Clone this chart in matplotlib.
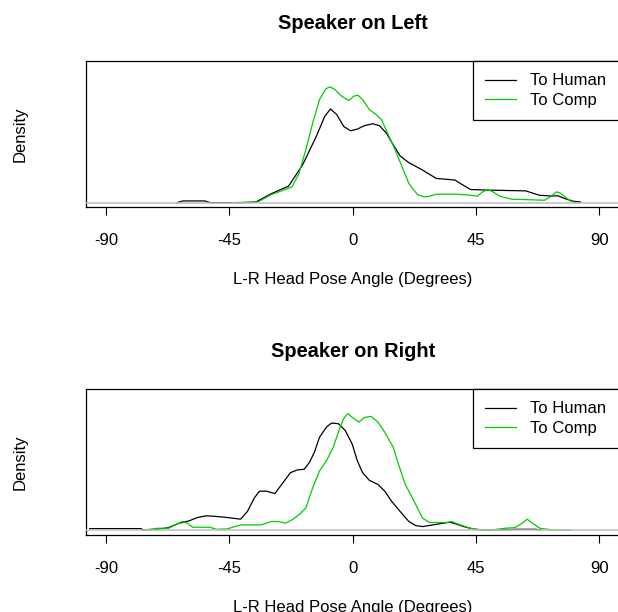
import matplotlib
matplotlib.use("Agg")
import matplotlib.pyplot as plt

plt.rcParams['font.family'] = ['Liberation Sans', 'DejaVu Sans']
plt.rcParams['font.size'] = 12

# Speaker on Left - density estimates
left_human_x = [-64, -62, -54, -52, -40, -35.3, -29.6, -23.4, -18.3, -13.3, -10.2, -8.1, -5.8, -3.3,
                -0.8, 1.7, 4.2, 7.3, 9.8, 12.3, 14.8, 17.3, 20.5, 25.5, 30.5, 34.9, 37.4, 39.3, 43.0,
                50.5, 63.1, 68.1, 71.8, 75.0, 78.1, 80.6, 83.1]
left_human_y = [0, 0.0005, 0.0005, 0, 0, 0.0002, 0.0027, 0.0049, 0.0112, 0.0197, 0.0257, 0.0279,
                0.0262, 0.0227, 0.0214, 0.0219, 0.0229, 0.0235, 0.0229, 0.0207, 0.0172, 0.0139,
                0.0119, 0.0097, 0.0072, 0.0069, 0.0067, 0.0057, 0.0039, 0.0037, 0.0035, 0.0022,
                0.0020, 0.0020, 0.0010, 0.0004, 0.0002]
left_comp_x = [-43.8, -34.6, -29.6, -24.6, -22.1, -19.6, -17.1, -14.6, -12.1, -9.8, -8.3, -6.5, -4.0,
               -1.4, 0.4, 1.9, 3.6, 6.1, 8.6, 10.5, 13.0, 15.5, 18.0, 20.5, 23.6, 26.1, 28.0, 30.5,
               38.0, 43.0, 45.5, 47.4, 49.3, 51.2, 53.7, 58.1, 63.1, 70.0, 72.5, 74.3, 75.6, 77.5,
               79.4, 81.2, 83.1]
left_comp_y = [0, 0.0002, 0.0024, 0.0039, 0.0047, 0.0087, 0.0157, 0.0237, 0.0307, 0.0339, 0.0345,
               0.0337, 0.0317, 0.0304, 0.0317, 0.0320, 0.0307, 0.0277, 0.0262, 0.0247, 0.0202,
               0.0157, 0.0107, 0.0057, 0.0024, 0.0017, 0.0019, 0.0025, 0.0025, 0.0022, 0.0019,
               0.0032, 0.0039, 0.0032, 0.0019, 0.0010, 0.0009, 0.0007, 0.0019, 0.0032, 0.0029,
               0.0017, 0.0005, 0, 0]

# Speaker on Right
right_human_x = [-96.0, -77.2, -76.6, -71.0, -67.2, -63.4, -59.7, -56.6, -53.4, -49.7, -45.9, -40.9,
                 -38.4, -35.9, -34.0, -31.5, -28.4, -25.9, -22.7, -20.2, -17.7, -15.8, -14.0, -12.1,
                 -9.6, -7.7, -5.2, -2.7, -0.2, 1.7, 3.6, 6.1, 9.2, 11.7, 14.2, 17.3, 20.5, 23.0,
                 25.5, 29.3, 33.0, 35.5, 38.0, 40.5, 44.3, 49.3, 55.6, 60.6, 66.8, 68.7]
right_human_y = [0.0004, 0.0004, 0, 0.0002, 0.0007, 0.0020, 0.0027, 0.0037, 0.0042, 0.0040, 0.0037,
                 0.0032, 0.0055, 0.0095, 0.0115, 0.0115, 0.0108, 0.0135, 0.0170, 0.0178, 0.0180,
                 0.0200, 0.0230, 0.0275, 0.0305, 0.0317, 0.0315, 0.0295, 0.0255, 0.0205, 0.0170,
                 0.0147, 0.0135, 0.0115, 0.0085, 0.0055, 0.0025, 0.0013, 0.0010, 0.0015, 0.0020,
                 0.0023, 0.0017, 0.0010, 0.0002, 0, 0.0001, 0.0002, 0.0002, 0]
right_comp_x = [-76.0, -71.0, -67.2, -64.7, -62.2, -60.3, -58.4, -54.7, -52.2, -49.7, -45.9, -40.9,
                -37.1, -33.4, -29.6, -27.1, -24.6, -22.1, -19.6, -17.1, -14.6, -12.1, -9.6, -7.1,
                -4.6, -3.3, -1.8, 0.4, 2.3, 4.2, 6.7, 9.2, 11.7, 14.8, 16.7, 19.2, 22.4, 25.5, 28.0,
                31.1, 34.3, 36.1, 39.3, 43.0, 46.8, 50.5, 55.6, 59.3, 61.8, 63.7, 65.6, 68.3, 73.1,
                79.4]
right_comp_y = [0, 0.0005, 0.0005, 0.0015, 0.0025, 0.0020, 0.0008, 0.0008, 0.0008, 0.0002, 0.0003,
                0.0015, 0.0015, 0.0015, 0.0025, 0.0025, 0.0020, 0.0030, 0.0045, 0.0065, 0.0125,
                0.0175, 0.0205, 0.0245, 0.0305, 0.0330, 0.0345, 0.0330, 0.0320, 0.0333, 0.0337,
                0.0320, 0.0290, 0.0245, 0.0195, 0.0135, 0.0085, 0.0035, 0.0022, 0.0022, 0.0022,
                0.0025, 0.0015, 0.0005, 0, 0, 0.0005, 0.0007, 0.0020, 0.0032, 0.0020, 0.0005, 0, 0]

x_ticks = [-90, -45, 0, 45, 90]
series_names = ["To Human", "To Comp"]
green = "#00cc00"

fig = plt.figure(figsize=(6.18, 6.12), dpi=100)

panels = [
    ("Speaker on Left", left_human_x, left_human_y, left_comp_x, left_comp_y,
     [0.1397, 0.6618, 0.862, 0.2386], (-0.0013, 0.0422)),
    ("Speaker on Right", right_human_x, right_human_y, right_comp_x, right_comp_y,
     [0.1397, 0.1258, 0.862, 0.2386], (-0.0015, 0.0418)),
]

for title, hx, hy, cx, cy, rect, ylim in panels:
    ax = fig.add_axes(rect)
    ax.plot(hx, hy, color="black", lw=0.9, label=series_names[0])
    ax.plot(cx, cy, color=green, lw=0.9, label=series_names[1])
    ax.axhline(0, color="#bebebe", lw=1.1, zorder=3)  # zero line like R's plot.density
    ax.set_xlim(-97.2, 97.2)
    ax.set_ylim(*ylim)
    ax.set_xticks(x_ticks)
    ax.set_xticklabels([str(t) for t in x_ticks])
    ax.set_yticks([])
    ax.tick_params(axis="x", length=5.8, width=0.8, pad=13)
    for s in ax.spines.values():
        s.set_linewidth(0.9)
    ax.set_title(title, fontsize=14.4, fontweight="bold", pad=23)
    ax.set_xlabel("L-R Head Pose Angle (Degrees)", labelpad=17)
    ax.set_ylabel("Density", labelpad=42)
    leg = ax.legend(loc="upper right", borderaxespad=0, fancybox=False, framealpha=1,
                    edgecolor="black", handlelength=1.86, handletextpad=0.84,
                    borderpad=0.75, labelspacing=0.25)
    leg.get_frame().set_linewidth(0.9)

plt.savefig("out.png", dpi=100)
